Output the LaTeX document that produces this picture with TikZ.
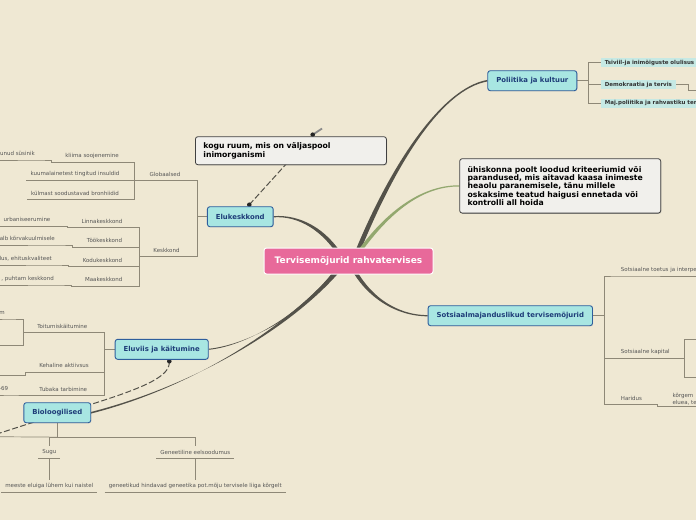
\documentclass[tikz,border=0pt]{standalone}
\usepackage{fontspec}
\setmainfont{DejaVu Sans}
\usetikzlibrary{arrows.meta, positioning, backgrounds, calc, shadows}

\definecolor{paper}{HTML}{EFE8D3}
\definecolor{hubpink}{HTML}{E8699A}
\definecolor{topicfill}{HTML}{A8E6E2}
\definecolor{topicline}{HTML}{2F5E9C}
\definecolor{topictext}{HTML}{1E3C78}
\definecolor{subfill}{HTML}{C6E9E4}
\definecolor{notefill}{HTML}{F1F0EC}
\definecolor{branchgrey}{HTML}{8E8877}
\definecolor{leafgrey}{HTML}{555555}
\definecolor{linkdark}{HTML}{54524A}
\definecolor{linkgreen}{HTML}{93A86F}

\tikzstyle{hub} = [rectangle, rounded corners=2.5pt, draw=white, line width=1pt, fill=hubpink, text=white, font=\fontsize{9}{10}\selectfont\bfseries, minimum width=169pt, minimum height=26pt]
\tikzstyle{topic} = [rectangle, rounded corners=2.5pt, draw=topicline, line width=0.9pt, fill=topicfill, text=topictext, font=\fontsize{6.9}{8}\selectfont\bfseries, inner xsep=8.5pt, minimum height=20pt, drop shadow={opacity=0.2, shadow xshift=0.7pt, shadow yshift=-0.7pt}]
\tikzstyle{subtopic} = [rectangle, fill=subfill, text=black!80, font=\fontsize{5.5}{6}\selectfont\bfseries, inner xsep=4pt, inner ysep=0pt, minimum height=9pt, anchor=west]
\tikzstyle{note} = [rectangle, rounded corners=2.5pt, draw=black!75, line width=0.8pt, fill=notefill, font=\fontsize{7.7}{8.3}\selectfont\bfseries, align=left, inner xsep=8pt, anchor=north west, drop shadow={opacity=0.3, shadow xshift=0.8pt, shadow yshift=-0.8pt}]
\tikzstyle{twig} = [rectangle, font=\fontsize{5.5}{6}\selectfont, text=leafgrey, inner xsep=4pt, inner ysep=0pt, minimum height=12pt]
\tikzstyle{branch} = [branchgrey, line width=0.7pt]
\tikzstyle{relation} = [linkdark, line width=1pt, dash pattern=on 6pt off 2.5pt]
\tikzstyle{relation_end} = [black!45, line width=1.8pt]
\tikzstyle{relation_dot} = [black!85]

\begin{document}
\begin{tikzpicture}[x=1pt, y=-1pt]

    \useasboundingbox (0,0) rectangle (696,520);
    \begin{scope}[on background layer]
        \fill [paper] (0,0) rectangle (696,520);
    \end{scope}
    \clip (0,0) rectangle (696,520);

    % main topics
    \node (central) [hub] at (348.5,261) {Tervisemõjurid rahvatervises};
    \node (poliitika) [topic] at (532.3,80.7) {Poliitika ja kultuur};
    \node (sotsiaal) [topic] at (510.3,315.7) {Sotsiaalmajanduslikud tervisemõjurid};
    \node (elukeskkond) [topic] at (240.3,216.7) {Elukeskkond};
    \node (eluviis) [topic] at (161.7,349.3) {Eluviis ja käitumine};
    \node (bioloogilised) [topic] at (57.3,412.7) {Bioloogilised};

    % notes
    \node (ruum) [note, text width=175pt, minimum height=28pt] at (195,136.3) {kogu ruum, mis on väljaspool\\inimorganismi};
    \node (kriteeriumid) [note, text width=185pt, minimum height=54.4pt] at (459.3,158.3) {ühiskonna poolt loodud kriteeriumid või\\parandused, mis aitavad kaasa inimeste\\heaolu paranemisele, tänu millele\\oskaksime teatud haigusi ennetada või\\kontrolli all hoida};

    % Elukeskkond
    \node (globaalsed) [twig] at (165,174) {Globaalsed};
    \node (keskkond) [twig] at (166.5,250) {Keskkond};
    \node (kliima) [twig] at (92,155.7) {kliima soojenemine};
    \node (susinik) [twig, anchor=south east] at (39,160) {unud süsinik};
    \node (kuumalained) [twig] at (75,174) {kuumalainetest tingitud insuldid};
    \node (kylm) [twig] at (75,193.3) {külmast soodustavad bronhiidid};
    \node (linn) [twig] at (102,221.3) {Linnakeskkond};
    \node (urban) [twig] at (27,219.7) {urbaniseerumine};
    \node (too) [twig] at (104.5,240.7) {Töökeskkond};
    \node (kuulmine) [twig, anchor=south east] at (59,245) {alb kõrvakuulmisele};
    \node (kodu) [twig] at (102.5,260) {Kodukeskkond};
    \node (ehitus) [twig, anchor=south east] at (56,265) {lus, ehituskvaliteet};
    \node (maa) [twig] at (103.7,279.7) {Maakeskkond};
    \node (puhtam) [twig, anchor=south east] at (58,285) {, puhtam keskkond};

    % Eluviis ja käitumine
    \node (toitumine) [twig] at (62.3,326) {Toitumiskäitumine};
    \node (toitm) [twig, anchor=south east] at (9,319) {m};
    \node (kehaline) [twig] at (64,365.7) {Kehaline aktiivsus};
    \node (tubakas) [twig] at (63.3,389) {Tubaka tarbimine};
    \node (tubakas69) [twig, anchor=south east] at (12.3,395) {-69};
    \coordinate (toitLoose) at (-6,345);
    \coordinate (kehaLoose) at (-6,375);

    % Bioloogilised
    \node (sugu) [twig] at (49.3,452.5) {Sugu};
    \node (geneetiline) [twig] at (195.3,452.5) {Geneetiline eelsoodumus};
    \node (meeste) [twig] at (49.3,486.3) {meeste eluiga lühem kui naistel};
    \node (geneetikud) [twig] at (195.3,486.3) {geneetikud hindavad geneetika pot.mõju tervisele liiga kõrgelt};
    \coordinate (bioLoose) at (-6,436.7);

    % Poliitika ja kultuur
    \node (tsiviil) [subtopic, text width=110pt, align=left] at (600.7,62.5) {Tsiviil-ja inimõiguste olulisus};
    \node (demokraatia) [subtopic] at (600.7,84.5) {Demokraatia ja tervis};
    \node (majpol) [subtopic, text width=110pt, align=left] at (600.7,103.3) {Maj.poliitika ja rahvastiku ter};
    \coordinate (demoLoose) at (705,90);

    % Sotsiaalmajanduslikud
    \node (toetus) [twig, anchor=south west] at (616.7,276) {Sotsiaalne toetus ja interpe};
    \node (kapital) [twig, anchor=south west] at (616.7,358.3) {Sotsiaalne kapital};
    \node (haridus) [twig, anchor=south west] at (616.7,404.3) {Haridus};
    \node (korgem) [twig, anchor=south west, align=left, font=\fontsize{5.5}{6.7}\selectfont, minimum height=0pt, inner ysep=1.5pt] at (668.3,406.7) {kõrgem\\eluea, te};
    \coordinate (toetusLoose) at (705,276);
    \coordinate (kapitalA) at (705,339);
    \coordinate (kapitalB) at (705,377.3);
    \coordinate (korgemLoose) at (705,406.7);

    % relation ends
    \coordinate (ruumStart) at ($(elukeskkond.north)+(9,-1.5)$);
    \coordinate (ruumKnot) at (312.7,134.7);
    \coordinate (ruumTip) at (322,128.5);
    \coordinate (eluviisStart) at ($(eluviis.south)+(7.6,1.5)$);
    \coordinate (relLoose) at (-3,434);

    \begin{scope}[on background layer]
        % main links
        \fill [linkdark] (352.5,258) .. controls (387.5,170) and (440,88.3) .. ($(poliitika.west)+(0,-0.8)$) -- ($(poliitika.west)+(0,0.8)$) .. controls (440,89.7) and (392.5,170) .. (357.5,258) -- cycle;
        \fill [linkgreen] (355.5,254) .. controls (383.5,214) and (420,184.9) .. ($(kriteeriumid.west)+(0,-0.6)$) -- ($(kriteeriumid.west)+(0,0.6)$) .. controls (420,186.1) and (386.5,216) .. (358.5,256) -- cycle;
        \fill [linkdark] ($(elukeskkond.east)+(0,-0.6)$) .. controls (301,214.4) and (326.7,229) .. (343.7,257) -- (340.3,259) .. controls (323.3,231) and (299,215.6) .. ($(elukeskkond.east)+(0,0.6)$) -- cycle;
        \fill [linkdark] (351.8,261.2) .. controls (366.8,294.2) and (395,315.1) .. ($(sotsiaal.west)+(0,-0.6)$) -- ($(sotsiaal.west)+(0,0.6)$) .. controls (395,316.3) and (363.2,295.8) .. (348.2,262.8) -- cycle;
        \fill [linkdark] ($(eluviis.east)+(0,-0.5)$) .. controls (250,344.5) and (311.2,310.8) .. (343.2,262.8) -- (340.8,261.2) .. controls (308.8,309.2) and (250,345.5) .. ($(eluviis.east)+(0,0.5)$) -- cycle;
        \fill [linkdark] ($(bioloogilised.east)+(0,-0.8)$) .. controls (200,384.2) and (301.6,321.2) .. (346.6,263.2) -- (343.4,260.8) .. controls (298.4,318.8) and (200,385.8) .. ($(bioloogilised.east)+(0,0.8)$) -- cycle;

        % relations
        \draw [relation] (ruumStart) -- (ruumKnot);
        \draw [relation_end] (ruumKnot) -- (ruumTip);
        \fill [relation_dot] (ruumStart) circle (2.3pt);
        \fill [relation_dot] (ruumKnot) circle (2.3pt);
        \draw [relation] (eluviisStart) .. controls (172,385) and (100,400) .. (relLoose);
        \fill [relation_dot] (eluviisStart) circle (2.3pt);

        % Elukeskkond branches
        \draw [branch] (elukeskkond.west) -- ++(-10,0) coordinate (eluFork);
        \draw [branch] (eluFork) |- (globaalsed.south east) -- (globaalsed.south west) -- ++(-11,0) coordinate (globFork);
        \draw [branch] (eluFork) |- (keskkond.south east) -- (keskkond.south west) -- ++(-10,0) coordinate (keskFork);
        \draw [branch] (globFork) |- (kliima.south east) -- (kliima.south west) -- ++(-10,0) |- (susinik.south east) -- (susinik.south west);
        \draw [branch] (globFork) |- (kuumalained.south east) -- (kuumalained.south west);
        \draw [branch] (globFork) |- (kylm.south east) -- (kylm.south west);
        \draw [branch] (keskFork) |- (linn.south east) -- (linn.south west) -- ++(-10,0) |- (urban.south east) -- (urban.south west);
        \draw [branch] (keskFork) |- (too.south east) -- (too.south west) -- ++(-10,0) |- (kuulmine.south east) -- (kuulmine.south west);
        \draw [branch] (keskFork) |- (kodu.south east) -- (kodu.south west) -- ++(-10,0) |- (ehitus.south east) -- (ehitus.south west);
        \draw [branch] (keskFork) |- (maa.south east) -- (maa.south west) -- ++(-10,0) |- (puhtam.south east) -- (puhtam.south west);

        % Eluviis ja käitumine branches
        \draw [branch] (eluviis.west) -- ++(-10.5,0) coordinate (eluviisFork);
        \draw [branch] (eluviisFork) |- (toitumine.south east) -- (toitumine.south west) -- ++(-10,0) coordinate (toitFork);
        \draw [branch] (toitFork) |- (toitm.south east) -- (toitm.south west);
        \draw [branch] (toitFork) |- (toitLoose);
        \draw [branch] (eluviisFork) |- (kehaline.south east) -- (kehaline.south west) -- ++(-10,0) |- (kehaLoose);
        \draw [branch] (eluviisFork) |- (tubakas.south east) -- (tubakas.south west) -- ++(-10,0) |- (tubakas69.south east) -- (tubakas69.south west);

        % Bioloogilised branches
        \draw [branch] (bioloogilised.south) -- ++(0,14) coordinate (bioFork);
        \draw [branch] (bioLoose) -- (bioFork);
        \draw [branch] (bioFork) -| (sugu.north);
        \draw [branch] (bioFork) -| (geneetiline.north);
        \draw [branch] (sugu.south west) -- (sugu.south east);
        \draw [branch] (sugu.south) -- (meeste.north);
        \draw [branch] (meeste.south west) -- (meeste.south east);
        \draw [branch] (geneetiline.south west) -- (geneetiline.south east);
        \draw [branch] (geneetiline.south) -- (geneetikud.north);
        \draw [branch] (geneetikud.south west) -- (geneetikud.south east);

        % Poliitika ja kultuur branches
        \draw [branch] (poliitika.east) -- ++(11,0) coordinate (polFork);
        \draw [branch] (polFork) |- (tsiviil.west);
        \draw [branch] (polFork) |- (demokraatia.west);
        \draw [branch] (polFork) |- (majpol.west);
        \draw [branch] (demokraatia.east) -- ++(11.7,0) |- (demoLoose);

        % Sotsiaalmajanduslikud branches
        \draw [branch] (sotsiaal.east) -- ++(11,0) coordinate (sotsFork);
        \draw [branch] (sotsFork) |- (toetus.south west) -- (toetusLoose);
        \draw [branch] (sotsFork) |- (kapital.south west) -- (kapital.south east) -- ++(10,0) coordinate (kapFork);
        \draw [branch] (kapFork) |- (kapitalA);
        \draw [branch] (kapFork) |- (kapitalB);
        \draw [branch] (sotsFork) |- (haridus.south west) -- (haridus.south east) -- ++(11,0) |- (korgem.south west) -- (korgemLoose);
    \end{scope}

\end{tikzpicture}
\end{document}
